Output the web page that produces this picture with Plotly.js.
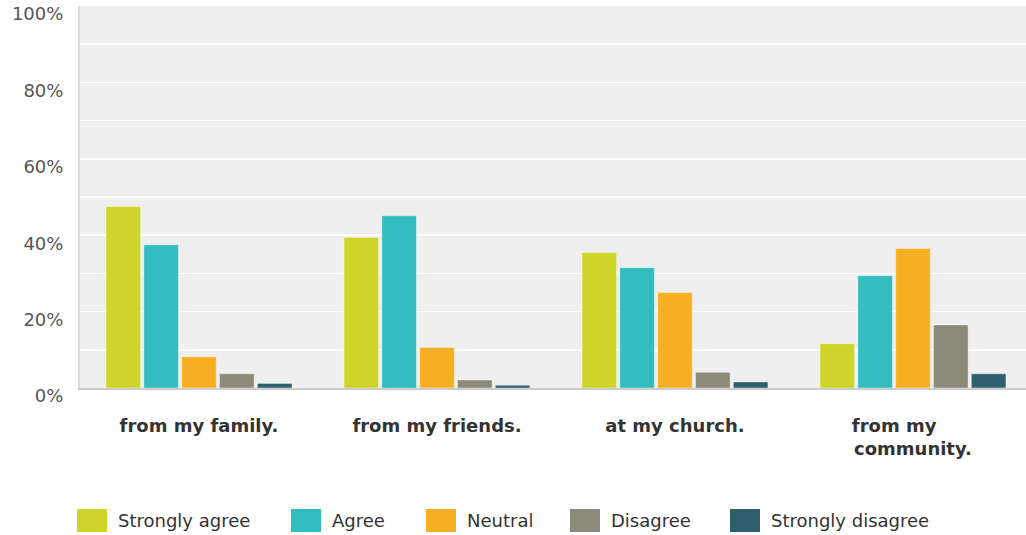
<!DOCTYPE html>
<html>
<head>
<meta charset="utf-8">
<script src="https://cdn.plot.ly/plotly-3.0.1.min.js"></script>
<style>html,body{margin:0;padding:0;background:#fff;}#chart{width:1026px;height:535px;}</style>
</head>
<body>
<div id="chart"></div>
<script>
// ---- data ----
const categories = ['from my family.', 'from my friends.', 'at my church.', 'from my community.'];
const tickLabels = ['from my family.', 'from my friends.', 'at my church.', 'from my\u00A0\u00A0\u00A0\u00A0\u00A0\u00A0<br>community.'];
const seriesNames = ['Strongly agree', 'Agree', 'Neutral', 'Disagree', 'Strongly disagree'];
const stronglyAgree = [47.5, 39.4, 35.5, 11.6];
const agree = [37.5, 45.1, 31.5, 29.4];
const neutral = [8.2, 10.6, 25.0, 36.5];
const disagree = [3.7, 2.1, 4.1, 16.5];
const stronglyDisagree = [1.2, 0.7, 1.6, 3.7];
const yTickVals = [0, 20, 40, 60, 80, 100];
const yTickText = ['0%', '20%', '40%', '60%', '80%', '100%'];

// ---- styles ----
const colors = ['#cfd42a', '#33bdbf', '#f6ae22', '#8b8a79', '#2f5e6c'];
const seriesValues = [stronglyAgree, agree, neutral, disagree, stronglyDisagree];

const traces = seriesNames.map((name, i) => ({
  type: 'bar',
  name: name,
  x: categories,
  y: seriesValues[i],
  marker: {color: colors[i], line: {color: 'rgba(255,255,255,0.4)', width: 1}},
  hoverinfo: 'x+y+name',
  showlegend: false
}));

// custom legend (positions in pixels)
const W = 1026, H = 535, mL = 80, mR = 0, mT = 6, mB = 147;
const pw = W - mL - mR, ph = H - mT - mB;
const px = x => (x - mL) / pw;
const py = y => (H - mB - y) / ph;
const swatchX = [77, 291, 426, 570, 730];
const shapes = [], annotations = [];
seriesNames.forEach((name, i) => {
  shapes.push({type: 'rect', xref: 'paper', yref: 'paper',
    x0: px(swatchX[i]), x1: px(swatchX[i] + 30), y0: py(532), y1: py(509),
    fillcolor: colors[i], line: {width: 0}});
  annotations.push({xref: 'paper', yref: 'paper', x: px(swatchX[i] + 39), y: py(520),
    xanchor: 'left', yanchor: 'middle', showarrow: false, text: name,
    font: {family: 'DejaVu Sans', size: 18, color: '#333'}});
});

const layout = {
  width: W, height: H,
  margin: {l: mL, r: mR, t: mT, b: mB, pad: 0},
  paper_bgcolor: '#ffffff',
  plot_bgcolor: '#efefef',
  barmode: 'group',
  bargap: 0.205,
  bargroupgap: 0.086,
  showlegend: false,
  xaxis: {
    type: 'category',
    range: [-0.5, 3.475],
    tickvals: categories,
    ticktext: tickLabels,
    ticks: '',
    showgrid: false,
    showline: true, linecolor: '#cccccc', linewidth: 2,
    zeroline: false,
    ticklabelstandoff: 20,
    tickfont: {family: 'DejaVu Sans', size: 18, color: '#333', weight: 'bold'}
  },
  yaxis: {
    range: [0, 100],
    tickvals: yTickVals,
    ticktext: yTickText,
    ticks: '',
    showgrid: true, gridcolor: '#ffffff', gridwidth: 1.5,
    minor: {dtick: 10, tick0: 0, showgrid: true, gridcolor: '#ffffff', gridwidth: 1.5},
    showline: true, linecolor: '#dcdcdc', linewidth: 2,
    zeroline: false,
    ticklabelstandoff: 11,
    ticklabelshift: 8,
    tickfont: {family: 'DejaVu Sans', size: 18, color: '#555'}
  },
  shapes: shapes,
  annotations: annotations
};

Plotly.newPlot('chart', traces, layout, {displayModeBar: false, staticPlot: true});
</script>
</body>
</html>
